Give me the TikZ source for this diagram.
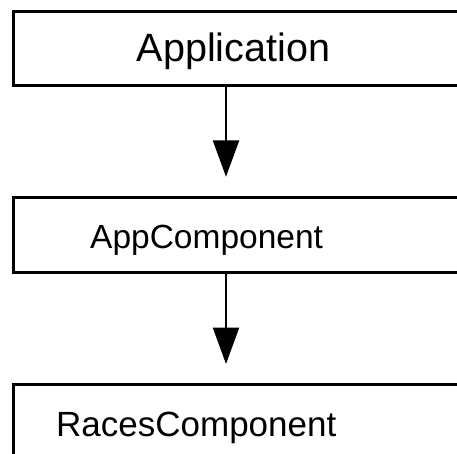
\documentclass[tikz,border=0pt]{standalone}
\usepackage{fontspec}
\setmainfont{Liberation Sans}
\usetikzlibrary{arrows.meta}
\begin{document}
\begin{tikzpicture}[x=1pt,y=-1pt,
    box/.style={draw,line width=3pt,minimum width=460pt,inner sep=0pt},
    label/.style={anchor=base west,inner sep=0pt}]
      \useasboundingbox (0,0) rectangle (457,453);
      \clip (0,0) rectangle (457,453);
      \draw
        (243.5,48.4) node[box,minimum height=73.8pt] (app){}
        (243.5,234.85) node[box,minimum height=74.7pt] (appcomp){}
        (243.5,434.7) node[box,minimum height=100pt] (races){}
        (136.7,61.7) node[label,font=\fontsize{39.5}{40}\selectfont] (apptext){Application}
        (90,248.3) node[label,font=\fontsize{33.5}{34}\selectfont] (appcomptext){AppComponent}
        (56,436.7) node[label,font=\fontsize{35}{36}\selectfont] (racestext){RacesComponent}
        (226,0) coordinate (axis);
      \begin{scope}[line width=2.5pt,-{Triangle[width=26pt,length=36.5pt]},shorten >=19.2pt]
        \draw (app.south -| axis) to (appcomp.north -| axis);
        \draw (appcomp.south -| axis) to (races.north -| axis);
      \end{scope}
    \end{tikzpicture}
\end{document}
